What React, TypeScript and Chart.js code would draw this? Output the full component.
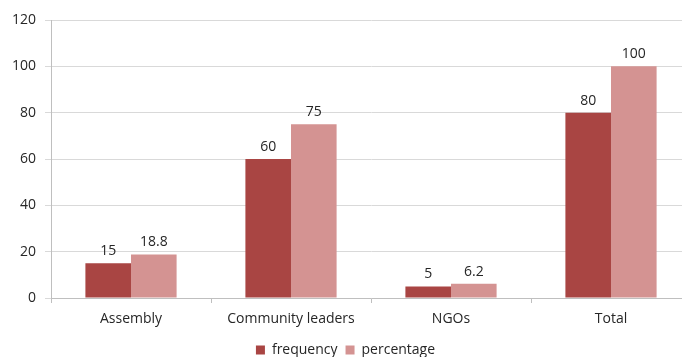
import React, { useEffect, useRef } from "react";
import { Chart, registerables } from "chart.js";

Chart.register(...registerables);

const categories = ["Assembly", "Community leaders", "NGOs", "Total"];
const frequency = [15, 60, 5, 80];
const percentage = [18.8, 75, 6.2, 100];
const yTicks = [0, 20, 40, 60, 80, 100, 120];

const FONT = "'Open Sans', Lato, sans-serif";

const valueLabels = {
  id: "valueLabels",
  afterDatasetsDraw(chart: any) {
    const { ctx } = chart;
    ctx.save();
    ctx.font = `14px ${FONT}`;
    ctx.fillStyle = "#262626";
    ctx.textAlign = "center";
    ctx.textBaseline = "bottom";
    chart.data.datasets.forEach((ds: any, i: number) => {
      const meta = chart.getDatasetMeta(i);
      meta.data.forEach((bar: any, j: number) => {
        ctx.fillText(String(ds.data[j]), bar.x, bar.y - 5);
      });
    });
    ctx.restore();
  },
};

export default function App() {
  const ref = useRef<HTMLCanvasElement>(null);

  useEffect(() => {
    if (!ref.current) return;
    const chart = new Chart(ref.current, {
      type: "bar",
      data: {
        labels: categories,
        datasets: [
          {
            label: "frequency",
            data: frequency,
            backgroundColor: "#A94543",
            barPercentage: 1,
            categoryPercentage: 0.57,
          },
          {
            label: "percentage",
            data: percentage,
            backgroundColor: "#D49392",
            barPercentage: 1,
            categoryPercentage: 0.57,
          },
        ],
      },
      options: {
        animation: false,
        responsive: false,
        maintainAspectRatio: false,
        layout: { padding: { top: 20, left: 0, right: 9, bottom: 0 } },
        plugins: {
          tooltip: { enabled: false },
          legend: {
            position: "bottom",
            labels: {
              boxWidth: 9,
              boxHeight: 9,
              padding: 8,
              color: "#262626",
              font: { family: FONT, size: 14 },
            },
          },
        },
        scales: {
          x: {
            afterFit: (s: any) => {
              s.height = 37;
            },
            grid: {
              display: true,
              drawOnChartArea: false,
              offset: true,
              tickLength: 5,
              color: "#bfbfbf",
            },
            border: { color: "#bfbfbf" },
            ticks: {
              color: "#262626",
              font: { family: FONT, size: 14 },
              padding: 8,
            },
          },
          y: {
            min: 0,
            max: 120,
            afterFit: (s: any) => {
              s.width = 51;
            },
            afterBuildTicks: (s: any) => {
              s.ticks = yTicks.map((v) => ({ value: v }));
            },
            grid: { color: "#d9d9d9", tickLength: 6 },
            border: { color: "#bfbfbf" },
            ticks: {
              color: "#262626",
              font: { family: FONT, size: 14 },
              padding: 9,
            },
          },
        },
      },
      plugins: [valueLabels],
    });
    return () => chart.destroy();
  }, []);

  return (
    <div
      style={{
        position: "fixed",
        left: 0,
        top: 0,
        width: 682,
        height: 357,
        overflow: "hidden",
        background: "#fff",
      }}
    >
      <canvas ref={ref} width={700} height={367} style={{ display: "block" }} />
    </div>
  );
}
